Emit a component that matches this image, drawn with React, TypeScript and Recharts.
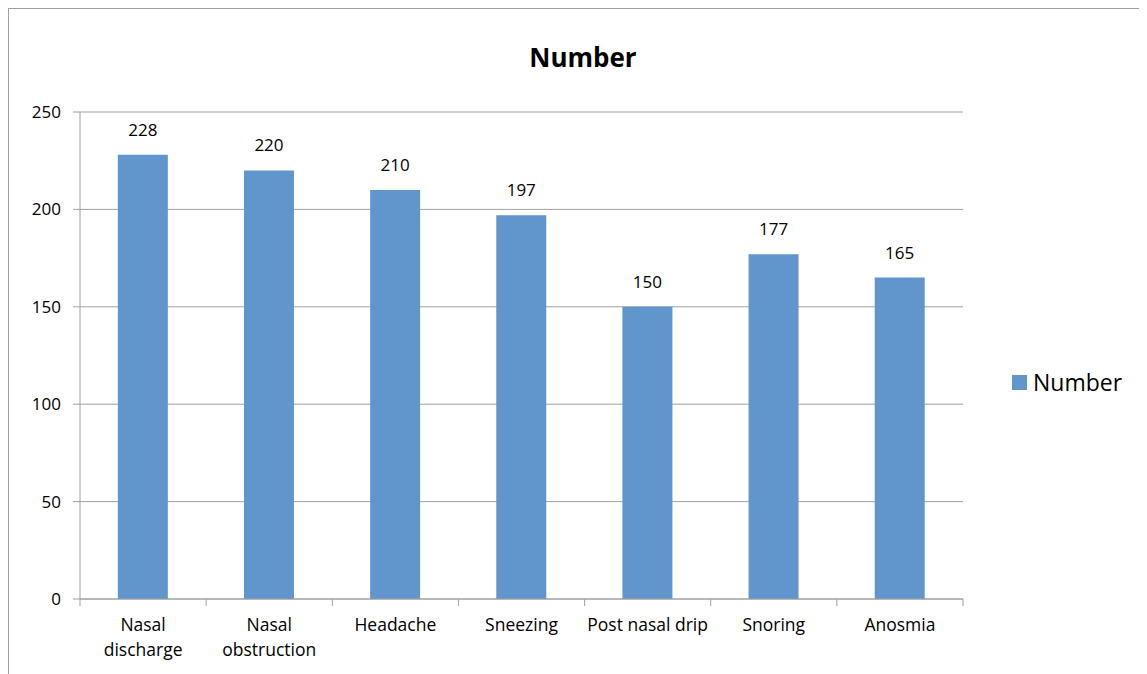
import React from "react";
import {
  BarChart,
  Bar,
  XAxis,
  YAxis,
  CartesianGrid,
  LabelList,
} from "recharts";

// Symptome und Anzahl Patienten
const categories = [
  "Nasal\ndischarge",
  "Nasal\nobstruction",
  "Headache",
  "Sneezing",
  "Post nasal drip",
  "Snoring",
  "Anosmia",
];
const numbers = [228, 220, 210, 197, 150, 177, 165];
const yTicks = [0, 50, 100, 150, 200, 250];

const data = categories.map((name, i) => ({ name, number: numbers[i] }));

const FONT = "'Open Sans', sans-serif";
const BAR = "#6096CB";
const GRID = "#a0a0a0";

// Kategorie-Label plus Teilstriche an den Kategoriegrenzen (wie Excel)
function CategoryTick(props: any) {
  const { x, y, payload, index, width, visibleTicksCount } = props;
  const band = width / visibleTicksCount;
  const lines = String(payload.value).split("\n");
  const isLast = index === visibleTicksCount - 1;
  return (
    <g>
      <line x1={x - band / 2} x2={x - band / 2} y1={y} y2={y + 7} stroke={GRID} />
      {isLast && <line x1={x + band / 2} x2={x + band / 2} y1={y} y2={y + 7} stroke={GRID} />}
      <text x={x} y={y} textAnchor="middle" fontFamily={FONT} fontSize={17.5} fill="#000">
        {lines.map((l, i) => (
          <tspan key={i} x={x} dy={i === 0 ? 32 : 25}>
            {l}
          </tspan>
        ))}
      </text>
    </g>
  );
}

export default function App() {
  return (
    <div
      style={{
        position: "relative",
        width: 1150,
        height: 670,
        border: "1px solid #a0a0a0",
        boxSizing: "border-box",
        background: "#fff",
      }}
    >
      <div
        style={{
          position: "absolute",
          top: 30,
          left: 474,
          width: 200,
          textAlign: "center",
          fontFamily: FONT,
          fontWeight: 700,
          fontSize: 26,
        }}
      >
        Number
      </div>
      {/* Legende rechts neben dem Plot */}
      <div
        style={{
          position: "absolute",
          left: 1003,
          top: 357,
          display: "flex",
          alignItems: "center",
          fontFamily: FONT,
          fontSize: 23,
        }}
      >
        <span style={{ display: "inline-block", width: 15, height: 15, background: BAR, marginRight: 6 }} />
        <span>Number</span>
      </div>
      <BarChart
        width={1139}
        height={666}
        data={data}
        barCategoryGap="30%"
        margin={{ top: 103, left: 11, right: 185, bottom: 16 }}
      >
        <CartesianGrid vertical={false} stroke={GRID} />
        <XAxis
          dataKey="name"
          interval={0}
          tick={<CategoryTick />}
          tickLine={false}
          tickSize={0}
          tickMargin={0}
          axisLine={{ stroke: GRID }}
          height={60}
        />
        <YAxis
          domain={[0, 250]}
          ticks={yTicks}
          width={60}
          tickSize={7}
          tickMargin={12}
          tickLine={{ stroke: GRID }}
          axisLine={{ stroke: GRID }}
          tick={{ fontFamily: FONT, fontSize: 17, fill: "#000" }}
        />
        <Bar dataKey="number" name="Number" fill={BAR} isAnimationActive={false}>
          <LabelList
            dataKey="number"
            position="top"
            offset={19}
            style={{ fontFamily: FONT, fontSize: 17, fill: "#000" }}
          />
        </Bar>
      </BarChart>
    </div>
  );
}
